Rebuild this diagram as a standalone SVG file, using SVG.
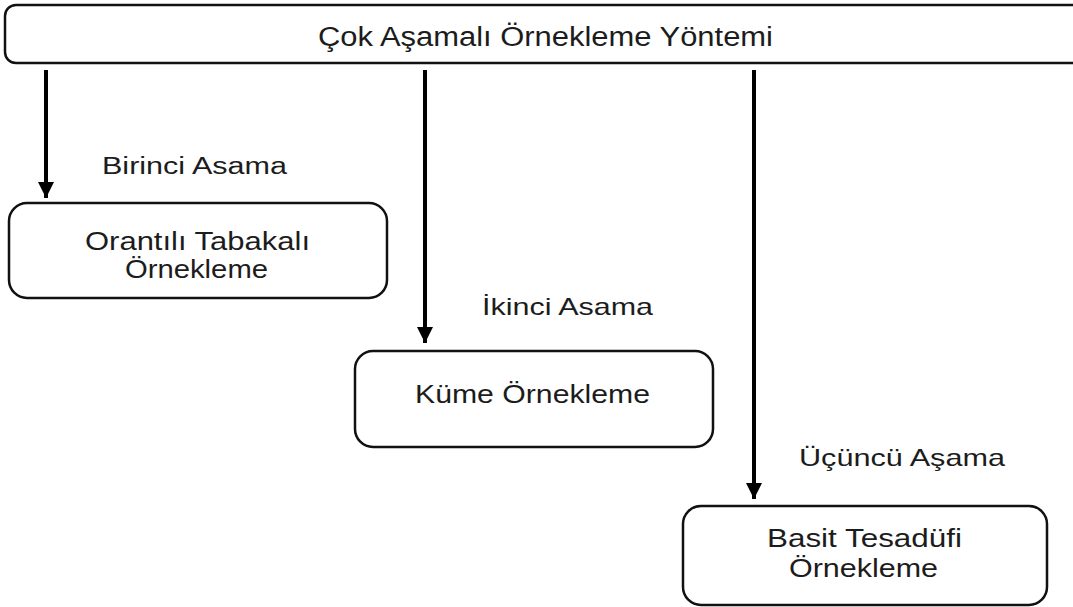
<svg xmlns="http://www.w3.org/2000/svg" width="1073" height="607" viewBox="0 0 1073 607">
  <style>
    .box { fill: #ffffff; stroke: #111111; stroke-width: 2.5; }
    .lbl { font-family: "Liberation Sans", Arial, sans-serif; fill: #1c1c1c; }
    .conn { stroke: #000000; stroke-width: 4; fill: none; }
    .head { fill: #000000; }
  </style>
  <defs>
    <marker id="arrow" markerUnits="userSpaceOnUse" markerWidth="18" markerHeight="16" refX="16" refY="8" orient="auto">
      <path class="head" d="M0,0 L16,8 L0,16 Z"/>
    </marker>
  </defs>
  <rect width="1073" height="607" fill="#ffffff"/>

  <!-- top-level method -->
  <g id="node-method">
    <rect class="box" x="5" y="5" width="1090" height="58" rx="11" ry="11"/>
    <text class="lbl" x="318" y="46" font-size="27" textLength="455" lengthAdjust="spacingAndGlyphs">Çok Aşamalı Örnekleme Yöntemi</text>
  </g>

  <!-- stage connectors -->
  <g id="connectors">
    <line class="conn" x1="46" y1="70" x2="46" y2="198" marker-end="url(#arrow)"/>
    <line class="conn" x1="425" y1="70" x2="425" y2="343" marker-end="url(#arrow)"/>
    <line class="conn" x1="754" y1="70" x2="754" y2="499" marker-end="url(#arrow)"/>
    <text class="lbl" x="102" y="174" font-size="23" textLength="185" lengthAdjust="spacingAndGlyphs">Birinci Asama</text>
    <text class="lbl" x="482" y="315" font-size="24" textLength="171" lengthAdjust="spacingAndGlyphs">İkinci Asama</text>
    <text class="lbl" x="799" y="466" font-size="24" textLength="206" lengthAdjust="spacingAndGlyphs">Üçüncü Aşama</text>
  </g>

  <!-- stage 1 -->
  <g id="node-stratified">
    <rect class="box" x="9" y="203" width="378" height="95" rx="18" ry="18"/>
    <text class="lbl" x="85" y="250" font-size="25" textLength="225" lengthAdjust="spacingAndGlyphs">Orantılı Tabakalı</text>
    <text class="lbl" x="125" y="278" font-size="25" textLength="143" lengthAdjust="spacingAndGlyphs">Örnekleme</text>
  </g>

  <!-- stage 2 -->
  <g id="node-cluster">
    <rect class="box" x="355" y="351" width="358" height="96" rx="18" ry="18"/>
    <text class="lbl" x="415" y="403" font-size="25" textLength="235" lengthAdjust="spacingAndGlyphs">Küme Örnekleme</text>
  </g>

  <!-- stage 3 -->
  <g id="node-simple-random">
    <rect class="box" x="683" y="506" width="364" height="99" rx="18" ry="18"/>
    <text class="lbl" x="767" y="547" font-size="25" textLength="195" lengthAdjust="spacingAndGlyphs">Basit Tesadüfi</text>
    <text class="lbl" x="789" y="577" font-size="25" textLength="149" lengthAdjust="spacingAndGlyphs">Örnekleme</text>
  </g>
</svg>
